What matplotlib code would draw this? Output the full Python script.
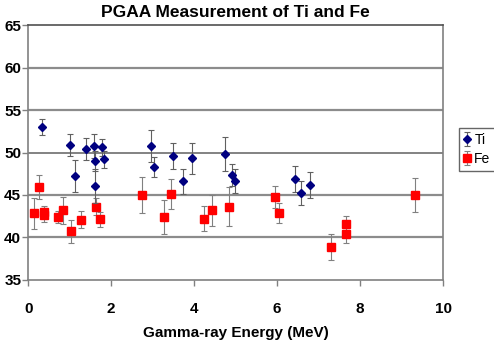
import numpy as np
import matplotlib
matplotlib.use("Agg")
import matplotlib.pyplot as plt

plt.rcParams['font.family'] = ['Liberation Sans', 'DejaVu Sans']

# Ti data (energy MeV, value, error)
ti_x = [0.33, 1.00, 1.14, 1.40, 1.58, 1.61, 1.62, 1.78, 1.82, 2.96, 3.04,
        3.49, 3.74, 3.94, 4.74, 4.91, 4.99, 6.44, 6.58, 6.79]
ti_y = [53.0, 50.9, 47.2, 50.4, 50.8, 49.0, 46.1, 50.6, 49.2, 50.8, 48.3,
        49.6, 46.6, 49.3, 49.8, 47.35, 46.6, 46.9, 45.2, 46.2]
ti_err = [0.9, 1.3, 1.9, 1.3, 1.4, 1.2, 2.0, 1.0, 1.0, 1.9, 1.2,
          1.5, 1.5, 1.8, 2.0, 1.3, 1.4, 1.5, 1.4, 1.5]

# Fe data
fe_x = [0.14, 0.26, 0.37, 0.37, 0.71, 0.83, 1.03, 1.27, 1.64, 1.74, 2.74,
        3.28, 3.44, 4.24, 4.43, 4.84, 5.94, 6.04, 7.29, 7.66, 7.66, 9.32]
fe_y = [42.85, 45.9, 43.05, 42.65, 42.4, 43.2, 40.7, 42.1, 43.6, 42.15, 45.0,
        42.35, 45.1, 42.2, 43.2, 43.6, 44.8, 42.85, 38.9, 41.55, 40.4, 45.0]
fe_err = [1.8, 1.4, 0.7, 0.8, 0.7, 1.6, 1.3, 1.0, 1.0, 0.9, 2.1,
          2.0, 1.8, 1.5, 1.8, 2.3, 1.3, 1.2, 1.5, 1.0, 1.0, 2.0]

xticks = [0, 2, 4, 6, 8, 10]
yticks = [35, 40, 45, 50, 55, 60, 65]

fig = plt.figure(figsize=(4.94, 3.49), dpi=100)
ax = fig.add_axes([0.057, 0.198, 0.84, 0.73])

for y in yticks[1:-1]:
    if y == 50:
        ax.axhline(y, color='#606060', lw=1.1, zorder=0)
    else:
        ax.axhline(y, color='#8c8c8c', lw=1.6, zorder=0)

ax.errorbar(fe_x, fe_y, yerr=fe_err, fmt='s', color='#ff0000', ms=6,
            ecolor='#808080', elinewidth=0.8, capsize=2, capthick=0.8,
            label='Fe', zorder=3)
ax.errorbar(ti_x, ti_y, yerr=ti_err, fmt='D', color='#000080', ms=4,
            ecolor='#606060', elinewidth=0.8, capsize=2, capthick=0.8,
            label='Ti', zorder=4)

ax.set_xlim(0, 10)
ax.set_ylim(35, 65)
ax.set_xticks(xticks)
ax.set_yticks(yticks)
ax.tick_params(axis='both', labelsize=11, length=4, width=1, color='#808080',
               direction='out')
for lab in ax.get_xticklabels() + ax.get_yticklabels():
    lab.set_fontweight('bold')
ax.tick_params(axis='x', pad=12)
ax.tick_params(axis='y', pad=1)

for side in ['left', 'bottom', 'right']:
    ax.spines[side].set_color('#808080')
    ax.spines[side].set_linewidth(1.2)
ax.spines['top'].set_color('#505050')
ax.spines['top'].set_linewidth(1.2)

ax.set_xlabel('Gamma-ray Energy (MeV)', fontsize=11, fontweight='bold',
              labelpad=7)
ax.set_title('PGAA Measurement of Ti and Fe', fontsize=12.5,
             fontweight='bold', pad=6)

handles, labels = ax.get_legend_handles_labels()
leg = fig.legend(handles[::-1], labels[::-1], loc='upper left',
                 bbox_to_anchor=(459 / 494, 1 - 128 / 349), fontsize=10,
                 frameon=True, fancybox=False, edgecolor='#404040',
                 handlelength=0.5, handletextpad=0.25, borderpad=0.35,
                 labelspacing=0.35, borderaxespad=0)
leg.get_frame().set_linewidth(1.0)

fig.savefig('out.png', dpi=100)
